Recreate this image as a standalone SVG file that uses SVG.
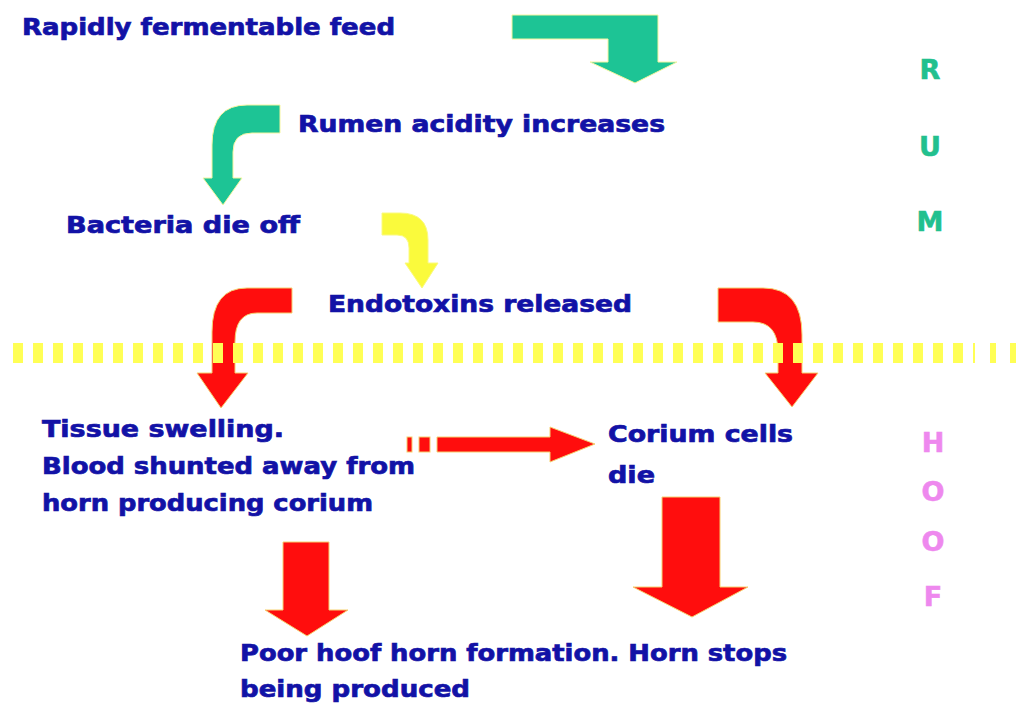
<svg xmlns="http://www.w3.org/2000/svg" width="1027" height="709" viewBox="0 0 1027 709">
<style>
.t{font-family:"DejaVu Sans","Liberation Sans",sans-serif;font-weight:bold;font-size:23px;fill:#1212A6;stroke:#1212A6;stroke-width:0.7}
.rum{font-family:"DejaVu Sans","Liberation Sans",sans-serif;font-weight:bold;font-size:27px;fill:#22C08E;stroke:#22C08E;stroke-width:0.6;text-anchor:middle}
.hoof{font-family:"DejaVu Sans","Liberation Sans",sans-serif;font-weight:bold;font-size:27px;fill:#EE88EE;stroke:#EE88EE;stroke-width:0.6;text-anchor:middle}
.teal{fill:#1DC495;stroke:#F5F5A0;stroke-width:1}
.yel{fill:#FAFA3C;stroke:#FAFA80;stroke-width:1}
.red{fill:#FF0D0D;stroke:#F5D070;stroke-width:1}
</style>
<rect width="1027" height="709" fill="#FFFFFF"/>
<g id="connectors">
<path class="teal" d="M512,15 L658,15 L658,62 L677,62 L635,83 L590,62 L608,62 L608,39 L512,39 Z"/>
<path class="teal" d="M280,105 L247,105 Q212,105 212,145 L212,178 L203,178 L223,205 L242,178 L233,178 L233,152 Q233,133 252,133 L280,133 Z"/>
<path class="yel" d="M382,213 L400,213 Q428,213 428,240 L428,263 L438,263 L422,288 L405,263 L409,263 L409,248 Q409,235 397,235 L382,235 Z"/>
<path class="red" d="M292,288 L247,288 Q212,288 212,332 L212,373 L197,373 L221,408 L248,373 L235,373 L235,342 Q235,313 257,313 L292,313 Z"/>
<path class="red" d="M718,288 L763,288 Q802,288 802,335 L802,373 L818,373 L792,407 L765,373 L778,373 L778,352 Q778,322 753,322 L718,322 Z"/>
<rect class="red" x="407" y="437" width="5" height="15"/>
<rect class="red" x="419" y="437" width="11" height="15"/>
<path class="red" d="M437,437 L550,437 L550,427 L595,444 L550,462 L550,452 L437,452 Z"/>
<path class="red" d="M283,542 L329,542 L329,610 L348,610 L307,636 L265,610 L283,610 Z"/>
<path class="red" d="M662,497 L720,497 L720,587 L748,587 L692,617 L633,587 L662,587 Z"/>
</g>
<g id="divider">
<line x1="13" y1="353" x2="975" y2="353" stroke="#FFFF55" stroke-width="20" stroke-dasharray="10 10"/>
<rect x="990" y="343" width="6" height="20" fill="#FFFF55"/>
<rect x="1010" y="343" width="6" height="20" fill="#FFFF55"/>
</g>
<g id="n1"><text class="t" x="22" y="35" textLength="373" lengthAdjust="spacingAndGlyphs">Rapidly fermentable feed</text></g>
<g id="n2"><text class="t" x="298" y="132" textLength="367" lengthAdjust="spacingAndGlyphs">Rumen acidity increases</text></g>
<g id="n3"><text class="t" x="66" y="233" textLength="234" lengthAdjust="spacingAndGlyphs">Bacteria die off</text></g>
<g id="n4"><text class="t" x="328" y="312" textLength="304" lengthAdjust="spacingAndGlyphs">Endotoxins released</text></g>
<g id="n5">
<text class="t" x="42" y="437" textLength="242" lengthAdjust="spacingAndGlyphs">Tissue swelling.</text>
<text class="t" x="42" y="474" textLength="373" lengthAdjust="spacingAndGlyphs">Blood shunted away from</text>
<text class="t" x="42" y="511" textLength="331" lengthAdjust="spacingAndGlyphs">horn producing corium</text>
</g>
<g id="n6">
<text class="t" x="608" y="442" textLength="185" lengthAdjust="spacingAndGlyphs">Corium cells</text>
<text class="t" x="608" y="483" textLength="47" lengthAdjust="spacingAndGlyphs">die</text>
</g>
<g id="n7">
<text class="t" x="240" y="661" textLength="547" lengthAdjust="spacingAndGlyphs">Poor hoof horn formation. Horn stops</text>
<text class="t" x="240" y="697" textLength="230" lengthAdjust="spacingAndGlyphs">being produced</text>
</g>
<g id="rumen">
<text class="rum" x="930" y="79">R</text>
<text class="rum" x="930" y="156">U</text>
<text class="rum" x="930" y="231">M</text>
</g>
<g id="hoof">
<text class="hoof" x="933" y="452">H</text>
<text class="hoof" x="933" y="501">O</text>
<text class="hoof" x="933" y="551">O</text>
<text class="hoof" x="933" y="606">F</text>
</g>
</svg>
